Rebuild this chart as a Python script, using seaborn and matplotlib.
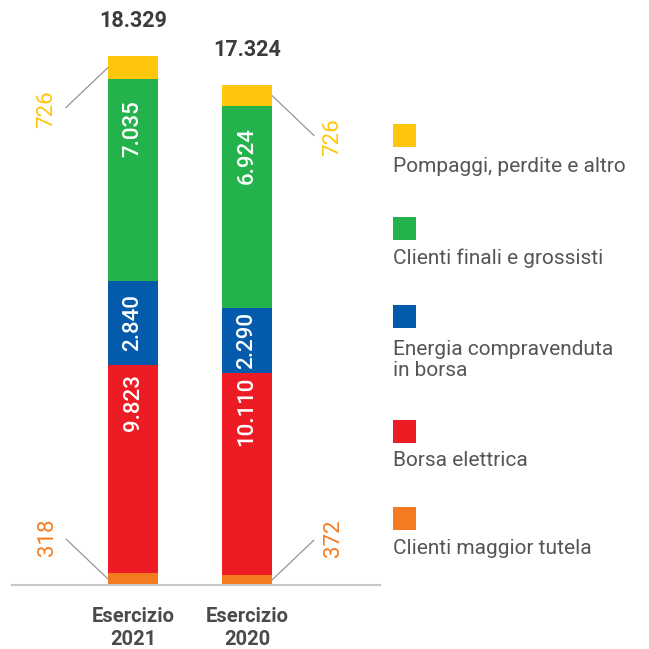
import matplotlib
matplotlib.use("Agg")
import matplotlib.pyplot as plt
import seaborn as sns
import pandas as pd
from matplotlib.patches import Rectangle

# ---------------- data ----------------
years = ["Esercizio\n2021", "Esercizio\n2020"]
categories = ["Clienti maggior tutela", "Borsa elettrica",
              "Energia compravenduta\nin borsa", "Clienti finali e grossisti",
              "Pompaggi, perdite e altro"]
colors = ["#F47B20", "#ED1C24", "#045AAB", "#23B24B", "#FFC60B"]
# segment heights as drawn in the picture (bottom -> top)
heights_2021 = [416, 7206, 2911, 6999, 797]
heights_2020 = [347, 6999, 2252, 6998, 728]
# value labels printed on the segments
labels_2021 = ["318", "9.823", "2.840", "7.035", "726"]
labels_2020 = ["372", "10.110", "2.290", "6.924", "726"]
totals = ["18.329", "17.324"]

# ---------------- style ----------------
sns.set_style("white")
plt.rcParams['font.family'] = ['Roboto', 'DejaVu Sans']
TXT = "#3C3C3C"
LEG = "#555555"

W, H = 649, 649
fig = plt.figure(figsize=(W / 100, H / 100), dpi=100)
ax = fig.add_axes([12 / W, 64 / H, 368 / W, 565 / H])

rows = []
for yi, (yr, hs) in enumerate(zip(years, [heights_2021, heights_2020])):
    bottom = 0
    for ci, cat in enumerate(categories):
        rows.append(dict(year=yr, cat=cat, h=hs[ci], bottom=bottom))
        bottom += hs[ci]
df = pd.DataFrame(rows)

bar_w = 50 / 114
for ci, cat in enumerate(categories):
    sub = df[df["cat"] == cat]
    sns.barplot(data=sub, x="year", y="h", order=years, bottom=sub["bottom"].values,
                color=colors[ci], saturation=1, width=bar_w, linewidth=0,
                errorbar=None, ax=ax)

ax.set_xlim(-121 / 114, 247 / 114)
ax.set_ylim(0, 565 * 34.65)
for s in ["left", "right", "top"]:
    ax.spines[s].set_visible(False)
ax.spines["bottom"].set_color("#C8C8C8")
ax.spines["bottom"].set_linewidth(1.5)
ax.set_yticks([])
ax.set_xlabel("")
ax.set_ylabel("")
ax.tick_params(axis="x", length=0, pad=16)
ax.set_xticks(range(len(years)))
ax.set_xticklabels(years, fontsize=14.5, fontweight="bold", color="#4A4A4A",
                   linespacing=1.22)

# ---------------- labels ----------------
all_labels = [labels_2021, labels_2020]
all_heights = [heights_2021, heights_2020]
inside_offset = {1: 38, 2: None, 3: 50}  # px below segment top (None = centred)
for bi in range(2):
    hs = all_heights[bi]
    labs = all_labels[bi]
    cum = [sum(hs[:i]) for i in range(len(hs))]
    side = -1 if bi == 0 else 1
    edge = bi + side * bar_w / 2
    for ci in range(len(hs)):
        lo, hi = cum[ci], cum[ci] + hs[ci]
        if ci in inside_offset:
            off = inside_offset[ci]
            if off is None:
                ax.text(bi, (lo + hi) / 2, labs[ci], rotation=90, ha="center",
                        va="center", color="white", fontsize=16,
                        fontweight="medium")
            else:
                ax.annotate(labs[ci], xy=(bi, hi), xytext=(0, -off),
                            textcoords="offset pixels", rotation=90,
                            ha="center", va="center", color="white",
                            fontsize=16, fontweight="medium")
        else:
            d = -1 if ci == len(hs) - 1 else 1
            mid = (lo + hi) / 2
            ax.annotate("", xy=(edge, mid), xytext=(side * 42, d * 40),
                        textcoords="offset pixels",
                        arrowprops=dict(arrowstyle="-", color="#8A8A8A",
                                        lw=0.8, shrinkA=0, shrinkB=0))
            ax.annotate(labs[ci], xy=(edge, mid), xytext=(side * 61, d * 42),
                        textcoords="offset pixels", rotation=90, ha="center",
                        va="center", color=colors[ci], fontsize=16)
    ax.annotate(totals[bi], xy=(bi, sum(hs)), xytext=(0, 35),
                textcoords="offset pixels", ha="center", va="center",
                color=TXT, fontsize=15.5, fontweight="bold")

# ---------------- legend ----------------
sq_tops = [124, 217, 305, 420, 507]
txt_cy = [166, 258, 360, 460, 548]
for k, ci in enumerate(reversed(range(len(categories)))):
    fig.add_artist(Rectangle((393 / W, 1 - (sq_tops[k] + 23) / H), 23 / W, 23 / H,
                             transform=fig.transFigure, facecolor=colors[ci],
                             edgecolor="none"))
    fig.text(393 / W, 1 - txt_cy[k] / H, categories[ci], ha="left", va="center",
             fontsize=15, fontweight="normal", color=LEG, linespacing=1.15)

fig.savefig("out.png", dpi=100)
